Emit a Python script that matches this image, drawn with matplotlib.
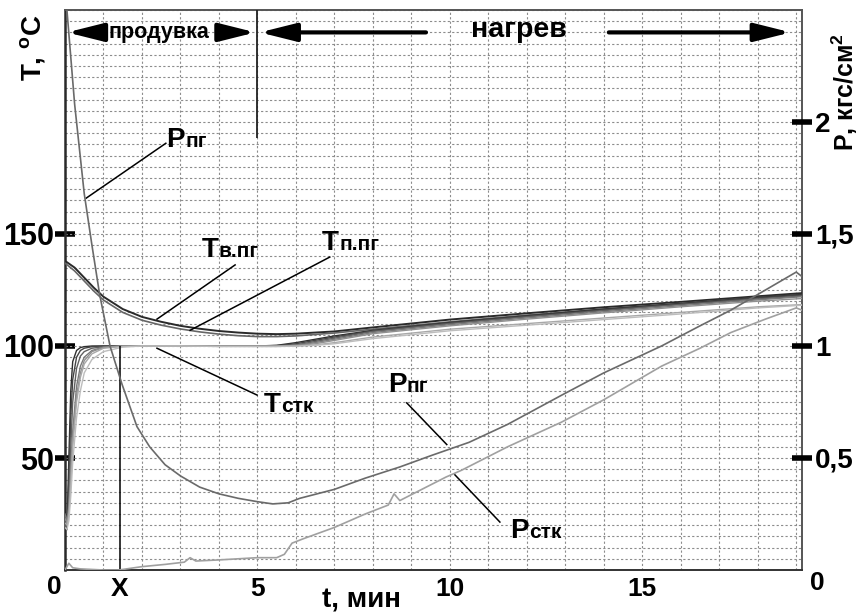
import numpy as np
import matplotlib
matplotlib.use("Agg")
import matplotlib.pyplot as plt

plt.rcParams['font.family'] = ['Liberation Sans', 'DejaVu Sans']
plt.rcParams['font.weight'] = 'bold'
plt.rcParams['mathtext.fontset'] = 'custom'
plt.rcParams['mathtext.rm'] = 'Liberation Sans:bold'
plt.rcParams['mathtext.bf'] = 'Liberation Sans:bold'

# time marks, min
t_x = 1.43          # "X" moment
t_purge_end = 5.0   # end of purge

# T, steam-generator wall/steam (two upper curves)
t_pg = [0, 0.25, 0.5, 0.75, 1.0, 1.5, 2.0, 2.5, 3.0, 3.5, 4.0, 4.5, 5.0, 5.5, 6.0, 7.0, 8.0,
        10, 12, 14, 16, 18, 19.15]
T_vpg = [138, 135, 130.5, 126, 122, 116.5, 113, 110.8, 109, 107.7, 106.7, 106, 105.5, 105.3, 105.5,
         106.5, 108.3, 111.8, 114.6, 117.3, 119.7, 122.2, 123.6]
T_ppg = [137, 133.5, 129, 124.5, 120.5, 115, 111.5, 109.3, 107.6, 106.3, 105.3, 104.6, 104.2, 104.2,
         104.5, 105.8, 107.5, 110.8, 113.8, 116.5, 119, 121.6, 122.9]

# T, steam-tank bundle
t_stk = [0, 0.05, 0.1, 0.15, 0.2, 0.3, 0.4, 0.5, 0.7, 1.0, 1.5, 2.0, 3.0, 4.0, 5.0, 5.5, 6.0, 6.5,
         7.0, 8.0, 10, 12, 14, 16, 18, 19.15]
T_stk = [
    [22, 18, 50, 80, 93, 98, 99.3, 99.7, 100, 100, 100, 100, 100, 100, 100, 100.3, 101.5, 103, 104.5,
     107, 110.5, 113.5, 116.5, 119, 121.7, 123],
    [24, 20, 40, 68, 85, 95, 98, 99, 99.7, 100, 100, 100, 100, 100, 100, 100.2, 101, 102.5, 104,
     106.8, 110.3, 113.3, 116.2, 118.8, 121.5, 122.8],
    [20, 19, 30, 55, 75, 90, 95.5, 97.5, 99, 99.7, 100, 100, 100, 100, 100, 100, 100.5, 102, 103.5,
     106.5, 110, 113, 115.8, 118.5, 121, 122.3],
    [25, 22, 28, 45, 62, 82, 91, 95, 98, 99.5, 100, 100, 100, 100, 100, 100, 100.3, 101.5, 103,
     106, 109.5, 112.5, 115.3, 118, 120.6, 122],
    [23, 21, 26, 42, 58, 78, 88, 93.5, 97.5, 99.3, 100, 100, 100, 100, 100, 100, 100.2, 101, 102.5,
     105.5, 109, 112, 114.8, 117.5, 120, 121.2],
    [21, 20, 24, 38, 55, 75, 86, 92, 96.5, 99, 99.8, 100, 100, 99.8, 99.8, 99.8, 100, 100.5, 101.5,
     104, 107.5, 110, 112.5, 115, 117.5, 118.5],
    [19, 18, 22, 33, 48, 68, 80, 88, 94, 97.5, 99.5, 100, 100, 99.8, 99.8, 99.8, 99.9, 100.3, 101,
     103.3, 106.8, 109.3, 111.8, 114.3, 117, 118.2],
]
stk_colors = ['#2e2e2e', '#444444', '#606060', '#7a7a7a', '#909090', '#a8a8a8', '#bdbdbd']

# P, kgf/cm2
t_Ppg = [0, 0.05, 0.25, 0.5, 0.7, 0.9, 1.17, 1.48, 1.87, 2.2, 2.6, 3.0, 3.5, 4.0, 4.5, 5.0, 5.4,
         5.8, 6.1, 7.0, 7.8, 8.7, 9.5, 10.5, 11.5, 12.9, 14.0, 15.5, 16.5, 17.3, 18.0, 18.5, 19.0, 19.15]
P_pg = [2.6, 2.5, 2.08, 1.68, 1.45, 1.23, 1.0, 0.83, 0.64, 0.55, 0.47, 0.42, 0.37, 0.34, 0.32, 0.305,
        0.295, 0.30, 0.32, 0.36, 0.41, 0.46, 0.51, 0.57, 0.65, 0.78, 0.88, 1.0, 1.09, 1.16, 1.23, 1.28,
        1.33, 1.31]
t_Pstk = [0, 0.1, 0.2, 0.4, 1.0, 1.4, 2.0, 2.6, 3.1, 3.25, 3.4, 4.0, 4.5, 5.0, 5.5, 5.7, 5.9, 6.2,
          7.0, 7.8, 8.4, 8.55, 8.7, 9.9, 10.3, 11.5, 12.9, 14.0, 15.5, 16.5, 17.3, 18.2, 19.0, 19.15]
P_stk = [0.0, 0.03, 0.01, 0.005, 0.0, 0.0, 0.015, 0.025, 0.035, 0.055, 0.04, 0.045, 0.05, 0.055,
         0.055, 0.07, 0.12, 0.14, 0.19, 0.25, 0.29, 0.34, 0.31, 0.415, 0.445, 0.55, 0.66, 0.76, 0.91,
         0.99, 1.06, 1.12, 1.17, 1.16]

fig = plt.figure(figsize=(8.6, 6.14), dpi=100)
ax = fig.add_axes([65 / 860, 1 - 570 / 614, 737 / 860, 560 / 614])
ax.set_xlim(0, 19.15)
ax.set_ylim(0, 250)

# grid
ax.set_xticks(np.arange(0, 19.5, 1), minor=True)
ax.set_yticks(np.arange(0, 251, 5), minor=True)
ax.xaxis.remove_overlapping_locs = False
ax.yaxis.remove_overlapping_locs = False
ax.grid(which='minor', ls=(0, (2, 2)), color='#8c8c8c', lw=0.8)
ax.tick_params(which='minor', length=0)

ax.set_xticks([t_x, 5, 10, 15])
ax.set_xticklabels(['X', '5', '10', '15'])
ax.tick_params(axis='x', length=0, pad=5, labelsize=19)
ax.set_yticks([50, 100, 150])
ax.tick_params(axis='y', direction='inout', length=15, width=4, pad=0, labelsize=22)
for s in ax.spines.values():
    s.set_color('#555555')
    s.set_linewidth(1.4)
ax.spines['left'].set_color('#2a2a2a')
ax.spines['left'].set_linewidth(1.8)
ax.spines['bottom'].set_color('#333333')

ax.plot(t_pg, T_vpg, color='#2a2a2a', lw=1.4, zorder=3)
ax.plot(t_pg, T_ppg, color='#666666', lw=1.2, zorder=3)
for T, c in zip(T_stk, stk_colors):
    ax.plot(t_stk, T, color=c, lw=1.0, zorder=3)

ax2 = ax.twinx()
ax2.set_ylim(0, 2.5)
ax2.set_yticks([0.5, 1, 1.5, 2])
ax2.set_yticklabels(['0,5', '1', '1,5', '2'])
ax2.tick_params(axis='y', direction='inout', length=15, width=4, pad=2, labelsize=20)
for s in ax2.spines.values():
    s.set_visible(False)
ax2.plot(t_Ppg, P_pg, color='#6a6a6a', lw=1.2)
ax2.plot(t_Pstk, P_stk, color='#a0a0a0', lw=1.2)

# zero labels
ax.annotate('0', xy=(0, 0), xycoords='axes fraction', xytext=(-7.6, -3.5),
            textcoords='offset points', ha='center', va='top', fontsize=19)
ax.annotate('0', xy=(1, 0), xycoords='axes fraction', xytext=(5.8, -1),
            textcoords='offset points', ha='left', va='top', fontsize=19)

# marker lines
ax.vlines(t_x, 0, 100, color='black', lw=1.1, zorder=4)
ax.vlines(t_purge_end, 193, 250, color='#222222', lw=1.3, zorder=4)

# phase arrows
y_arr = 240
arr = dict(arrowstyle='-|>,head_length=2.2,head_width=0.55', lw=3, color='black',
           shrinkA=0, shrinkB=0, mutation_scale=10)
for tail, tip in [(0.93, 0.05), (3.98, 4.95), (9.38, 5.06), (14.13, 18.86)]:
    ax.annotate('', xy=(tip, y_arr), xytext=(tail, y_arr), arrowprops=arr, zorder=5)
ax.text(2.45, y_arr, 'продувка', ha='center', va='center', fontsize=15.5, zorder=5)
ax.text(11.8, y_arr + 1, 'нагрев', ha='center', va='center', fontsize=20.5, zorder=5)

# curve labels with pointers
labels = [
    ('P', 'пг', 3.12, 188.8, (2.62, 190.5), (0.55, 166)),
    ('T', 'в.пг', 4.0, 139.7, (4.42, 136.2), (2.39, 112)),
    ('T', 'п.пг', 7.12, 142.9, (6.88, 139.7), (3.25, 107)),
    ('T', 'стк', 5.61, 70.5, (4.99, 78.1), (2.39, 99)),
    ('P', 'пг', 8.88, 79.5, (8.88, 74.6), (9.92, 56)),
    ('P', 'стк', 12.05, 14.3, (11.3, 21.4), (10.13, 42.5)),
]
for big, small, x, y, p0, p1 in labels:
    ax.text(x, y, big, ha='right', va='baseline', fontsize=20, zorder=6)
    ax.text(x, y, small, ha='left', va='baseline', fontsize=15, zorder=6)
    ax.plot([p0[0], p1[0]], [p0[1], p1[1]], color='black', lw=1.1, zorder=6)

# axis titles
fig.text(33 / 860, 1 - 48 / 614, r'T, $^{\mathbf{o}}$C', rotation=90, ha='center', va='center',
         fontsize=20)
fig.text(860 / 860, 1 - 92 / 614, r'P, кгс/см$^{\mathbf{2}}$', rotation=90, ha='right',
         va='center', fontsize=18)
fig.text(362 / 860, 1 - 600 / 614, 't, мин', ha='center', va='center', fontsize=20)

fig.savefig('out.png', dpi=100)
